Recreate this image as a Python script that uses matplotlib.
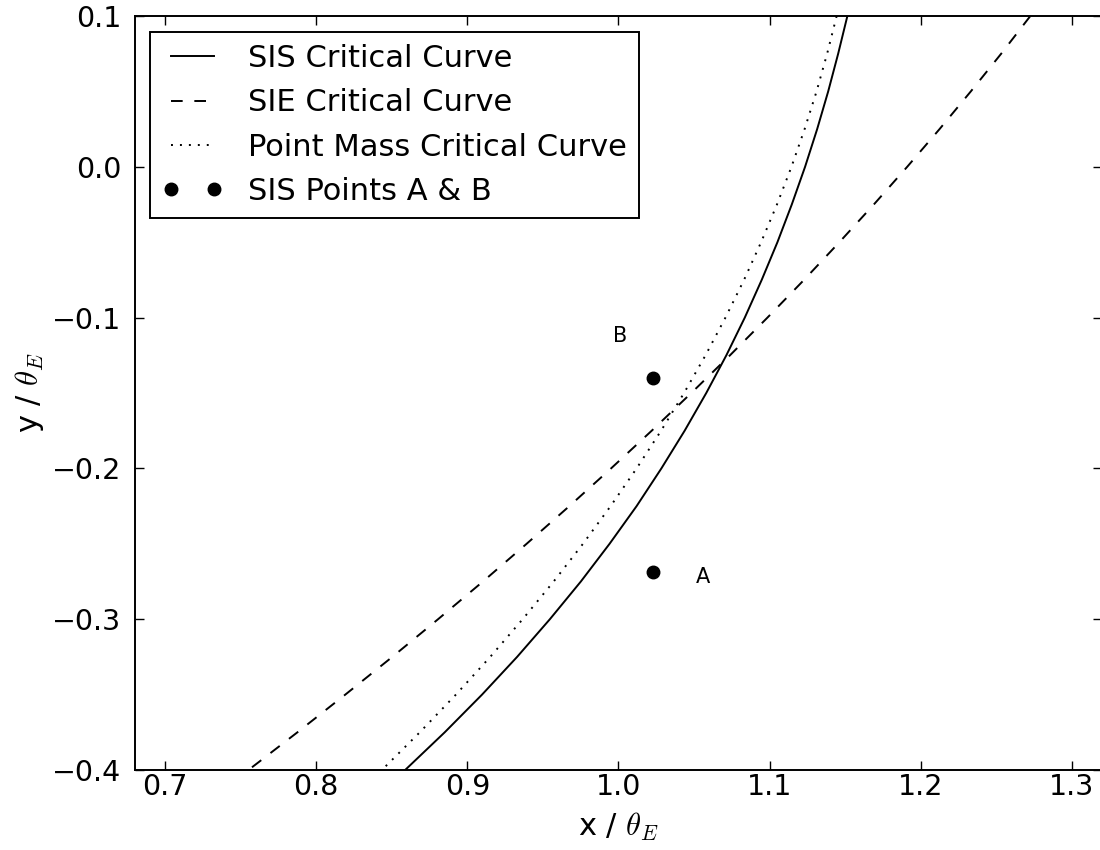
import matplotlib
matplotlib.use("Agg")
import matplotlib.pyplot as plt

plt.rcParams["mathtext.fontset"] = "cm"
plt.rcParams["font.size"] = 20.5

# critical curves (x / theta_E at each y / theta_E)
curve_y = [0.100, 0.075, 0.050, 0.025, 0.000, -0.025, -0.050, -0.075, -0.100, -0.125, -0.150,
           -0.175, -0.200, -0.225, -0.250, -0.275, -0.300, -0.325, -0.350, -0.375, -0.400]
sis_x = [1.1515, 1.1454, 1.1388, 1.1315, 1.1235, 1.1147, 1.1052, 1.0948, 1.0836, 1.0714, 1.0581,
         1.0438, 1.0284, 1.0120, 0.9941, 0.9751, 0.9546, 0.9329, 0.9097, 0.8850, 0.8588]
sie_x = [1.2726, 1.2533, 1.2332, 1.2125, 1.1911, 1.1690, 1.1462, 1.1228, 1.0986, 1.0738, 1.0482,
         1.0220, 0.9951, 0.9675, 0.9392, 0.9103, 0.8806, 0.8503, 0.8192, 0.7875, 0.7551]
pm_x = [1.1444, 1.1381, 1.1311, 1.1232, 1.1145, 1.1049, 1.0944, 1.0831, 1.0708, 1.0576, 1.0434,
        1.0282, 1.0120, 0.9948, 0.9765, 0.9571, 0.9366, 0.9151, 0.8924, 0.8685, 0.8434]

pts_x = [1.0226, 1.0226]
pts_y = [-0.2685, -0.1399]
pt_names = ["A", "B"]
name_x = [1.0558, 1.0009]
name_y = [-0.272, -0.112]

fig = plt.figure(figsize=(11, 8.5), dpi=100)
ax = fig.add_axes([0.1227, 0.0941, 0.8791, 0.8871])

ax.plot(sis_x, curve_y, color="k", lw=1.4, ls="-", label="SIS Critical Curve")
ax.plot(sie_x, curve_y, color="k", lw=1.4, ls=(0, (6, 6)), label="SIE Critical Curve")
ax.plot(pm_x, curve_y, color="k", lw=1.4, ls=(0, (1, 3.6)), label="Point Mass Critical Curve")
ax.plot(pts_x, pts_y, "ko", ms=9, ls="none", label="SIS Points A & B")
for nx, ny, s in zip(name_x, name_y, pt_names):
    ax.text(nx, ny, s, fontsize=15, ha="center", va="center")

ax.set_xlim(0.68, 1.32)
ax.set_ylim(-0.4, 0.1)
ax.set_xticks([0.7, 0.8, 0.9, 1.0, 1.1, 1.2, 1.3])
ax.set_yticks([-0.4, -0.3, -0.2, -0.1, 0.0, 0.1])
ax.tick_params(direction="in", length=6.5, width=1, top=True, right=True)
ax.tick_params(axis="x", pad=2.5)
ax.tick_params(axis="y", pad=10)
for sp in ax.spines.values():
    sp.set_linewidth(1.4)

ax.set_xlabel(r"x / $\theta_E$", fontsize=22, labelpad=7)
ax.set_ylabel(r"y / $\theta_E$", fontsize=22, labelpad=4)

leg = ax.legend(loc="upper left", bbox_to_anchor=(0.0155, 0.9788), borderaxespad=0,
                numpoints=2, fancybox=False, framealpha=1, edgecolor="k", fontsize=22,
                handlelength=2.0, handletextpad=0.8, labelspacing=0.5, borderpad=0.4)
leg.get_frame().set_linewidth(1.4)

fig.savefig("out.png", dpi=100)
